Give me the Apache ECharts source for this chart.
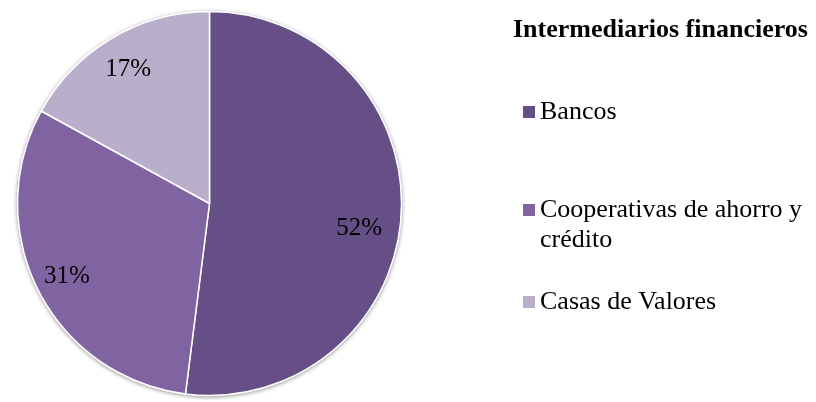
<!DOCTYPE html>
<html>
<head>
<meta charset="utf-8">
<style>
  html, body { margin: 0; padding: 0; background: #ffffff; }
  #chart { width: 816px; height: 402px; }
</style>
<script src="https://cdn.jsdelivr.net/npm/echarts@6/dist/echarts.min.js"></script>
</head>
<body>
<div id="chart"></div>
<script>
// Participación por tipo de intermediario financiero (%)
const categories = ['Bancos', 'Cooperativas de ahorro y crédito', 'Casas de Valores'];
const shares = [52, 31, 17];
const sliceColors = ['#664F86', '#8064A2', '#B9AFCA'];
const chartTitle = 'Intermediarios financieros';

const FONT = '"Liberation Serif", "Times New Roman", serif';
const CENTER = [209.5, 203.5];
const RADIUS = 192;

const pieData = categories.map((name, i) => ({
  name: name,
  value: shares[i],
  itemStyle: { color: sliceColors[i] }
}));

// small nudges so each percentage sits where it reads best inside its slice
const labelNudges = [[-10, 15], [0, 0], [0, 4]];
const labelData = categories.map((name, i) => ({
  name: name,
  value: shares[i],
  label: { offset: labelNudges[i] }
}));

// wrap long legend names; a leading blank line keeps the marker beside the first line
function wrapLegend(n) {
  return n.indexOf('ahorro y ') >= 0 ? '\n' + n.replace('ahorro y ', 'ahorro y\n') : n;
}

function legendFor(idx, top) {
  return {
    data: [{ name: categories[idx], itemStyle: { color: sliceColors[idx] } }],
    orient: 'vertical',
    left: 523,
    top: top,
    padding: 0,
    itemWidth: 12,
    itemHeight: 12,
    icon: 'rect',
    selectedMode: false,
    itemStyle: { borderWidth: 0 },
    formatter: wrapLegend,
    textStyle: {
      fontFamily: FONT,
      fontSize: 26,
      lineHeight: 30,
      color: '#000000'
    }
  };
}

const chart = echarts.init(document.getElementById('chart'), null, { renderer: 'canvas' });

chart.setOption({
  animation: false,
  backgroundColor: '#ffffff',
  color: sliceColors,
  title: {
    text: chartTitle,
    left: 513,
    top: 15,
    padding: 0,
    textStyle: {
      fontFamily: FONT,
      fontSize: 26,
      fontWeight: 'bold',
      lineHeight: 30,
      color: '#000000'
    }
  },
  legend: [
    legendFor(0, 97),
    legendFor(1, 165),
    legendFor(2, 287)
  ],
  series: [
    {
      type: 'pie',
      z: 2,
      center: CENTER,
      radius: [0, RADIUS],
      startAngle: 90,
      clockwise: true,
      label: { show: false },
      labelLine: { show: false },
      emphasis: { disabled: true },
      data: pieData,
      itemStyle: {
        borderColor: '#ffffff',
        borderWidth: 1.5
      }
    },
    {
      // soft edge shadow beneath the pie
      type: 'pie',
      silent: true,
      z: 1,
      center: CENTER,
      radius: [0, RADIUS + 0.5],
      startAngle: 90,
      clockwise: true,
      label: { show: false },
      labelLine: { show: false },
      legendHoverLink: false,
      data: categories.map((name, i) => ({ name: name, value: shares[i] })),
      itemStyle: {
        color: '#ffffff',
        shadowBlur: 4,
        shadowOffsetY: 1,
        shadowColor: 'rgba(0,0,0,0.45)'
      }
    },
    {
      // transparent ring that carries the percentage labels
      type: 'pie',
      silent: true,
      z: 3,
      center: CENTER,
      radius: [0, 314],
      startAngle: 90,
      clockwise: true,
      legendHoverLink: false,
      itemStyle: { color: 'rgba(0,0,0,0)' },
      labelLine: { show: false },
      label: {
        show: true,
        position: 'inside',
        formatter: p => p.value + '%',
        fontFamily: FONT,
        fontSize: 25,
        color: '#000000'
      },
      data: labelData
    }
  ]
});
</script>
</body>
</html>
